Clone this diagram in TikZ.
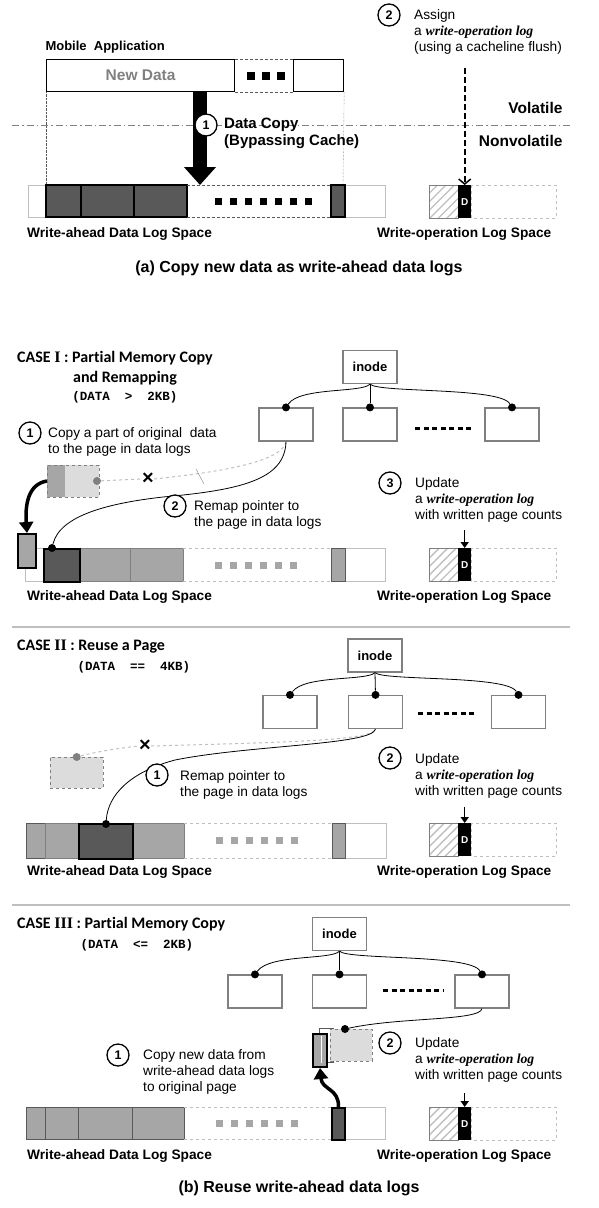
\documentclass[tikz,border=0pt]{standalone}
\usepackage{fontspec}
\setmainfont{Liberation Sans}
\newfontfamily\casefont[Ligatures=NoCommon]{Carlito}
\newfontfamily\serifnum{Liberation Serif}
\newfontfamily\codefont{Liberation Mono}
\usetikzlibrary{arrows.meta, patterns.meta, positioning}

\definecolor{darkfill}{HTML}{595959}
\definecolor{midfill}{HTML}{A6A6A6}
\definecolor{lightfill}{HTML}{DCDCDC}
\definecolor{rimgray}{HTML}{808080}
\definecolor{palegray}{HTML}{BFBFBF}

\newcommand\wolog{{\serifnum\bfseries\itshape write-operation log}}
\newcommand\notefont{\fontsize{13.7}{16}\selectfont}
\newcommand\labelfont{\bfseries\fontsize{13.7}{16}\selectfont}
\newcommand\headfont{\casefont\bfseries\fontsize{16}{19}\selectfont}

\tikzset{
  pagebox/.style={draw=rimgray, line width=1.2pt, fill=white, minimum width=54pt, minimum height=33pt, inner sep=0pt},
  inodebox/.style={pagebox, font=\bfseries\fontsize{13}{15}\selectfont},
  ptrdot/.style={circle, fill=black, inner sep=0pt, minimum size=8pt},
  olddot/.style={circle, fill=rimgray, inner sep=0pt, minimum size=8pt},
  stepnum/.style={circle, draw, line width=1.3pt, fill=white, inner sep=0pt, minimum size=22pt, font=\bfseries\fontsize{12.5}{14}\selectfont},
  note/.style={anchor=west, align=left, inner sep=0pt, font=\notefont},
  block/.style={draw, anchor=north west, inner sep=0pt, minimum height=33pt},
  hot/.style={block, line width=2pt, fill=darkfill},
  oldpage/.style={draw=rimgray, dashed, fill=lightfill, anchor=north west, inner sep=0pt, minimum height=32pt},
  gapline/.style={palegray, dashed, line width=0.8pt},
  pointer/.style={line width=0.8pt},
  deadptr/.style={palegray, dashed, line width=1pt},
  cross/.style={inner sep=0pt, font=\bfseries\fontsize{20}{20}\selectfont},
  copyarrow/.style={line width=3.5pt, -{Triangle[length=11pt, width=14pt]}},
  treedots/.style={line width=3pt, dash pattern=on 5pt off 3.5pt},
}

\begin{document}
\begin{tikzpicture}[x=1pt, y=-1pt]
  \useasboundingbox (0,0) rectangle (598,1208);

  % (a) copy new data as write-ahead data logs
  \node[anchor=west, font=\bfseries\fontsize{13}{15}\selectfont] (mobapp) at (42,47) {Mobile\ \ Application};
  \node[draw, line width=1.2pt, anchor=north west, minimum width=188pt, minimum height=32pt, inner sep=0pt,
        text=rimgray, font=\bfseries\fontsize{15.5}{18}\selectfont] (newdata) at (46,59) {New Data};
  \node[draw, line width=1.2pt, anchor=north west, minimum width=50pt, minimum height=32pt, inner sep=0pt] (moredata) at (293,59) {};
  \draw[densely dashed, darkfill] (newdata.north east) -- (moredata.north west) (newdata.south east) -- (moredata.south west);
  \foreach \i in {0,1,2} \fill (247+\i*15,72) rectangle ++(8,8);

  \draw[densely dotted, darkfill] (newdata.south west) -- (46,185);
  \draw[densely dotted, darkfill] (moredata.south east) -- (343,185);
  \draw[rimgray, line width=0.8pt, dash pattern=on 7pt off 3pt on 1.5pt off 3pt] (12,125) -- (570,125);

  \node[anchor=east, font=\bfseries\fontsize{15.5}{18}\selectfont] (volatile) at (566,108) {Volatile};
  \node[anchor=east, font=\bfseries\fontsize{15.5}{18}\selectfont] (nonvolatile) at (566,141) {Nonvolatile};

  % write-ahead data log space (a)
  \draw[palegray, line width=1pt] (28,185) rectangle (46,217);
  \foreach \a/\b in {46/81, 81/134, 134/187}
    \draw[fill=darkfill, line width=2pt] (\a,185) rectangle (\b,217);
  \draw[densely dashed, darkfill] (187,185) -- (331,185) (187,217) -- (331,217);
  \foreach \i in {0,...,6} \fill (215+\i*15,198) rectangle ++(7,7);
  \draw[palegray, line width=1pt] (345,185) rectangle (385,217);
  \draw[fill=darkfill, line width=2pt] (331,185) rectangle (345,217);

  \coordinate (copytip) at (200,185);
  \draw[line width=14pt, -{Triangle[length=18pt, width=31pt]}] (newdata.south -| copytip) -- (copytip);
  \node[stepnum] (copyone) at (206,125) {1};
  \node[anchor=west, align=left, inner sep=0pt, font=\bfseries\fontsize{15}{17}\selectfont] (copytext) at (224,133.5) {Data Copy\\(Bypassing Cache)};

  % write-operation log space, all four parts
  \foreach \y in {185, 548, 823, 1107} {
    \draw[gapline] (471,\y) rectangle (556,\y+33);
    \fill[pattern={Lines[angle=45, distance=6pt, line width=1.3pt]}, pattern color=palegray] (429,\y) rectangle (458,\y+33);
    \draw[rimgray] (429,\y) rectangle (458,\y+33);
    \node[fill=black, anchor=north west, inner sep=0pt, minimum width=13pt, minimum height=33pt,
          text=white, font=\bfseries\fontsize{10}{12}\selectfont] (dlog-\y) at (458,\y) {D};
    \node[anchor=west, inner sep=0pt, font=\labelfont] at (377,\y+49) {Write-operation Log Space};
    \node[anchor=west, inner sep=0pt, font=\labelfont] at (27,\y+49) {Write-ahead Data Log Space};
  }

  \node[stepnum] (assignnum) at (389,15) {2};
  \node[note] (assigntext) at (414,32) {Assign\\a \wolog\\(using a cacheline flush)};
  \coordinate (assignstart) at (dlog-185.north |- 0,68);
  \draw[line width=2.2pt, dash pattern=on 6pt off 3pt, -{Straight Barb[length=5pt, width=12pt, line width=1.5pt]}] (assignstart) -- (dlog-185.north);

  \node[font=\bfseries\fontsize{16}{19}\selectfont] (capa) at (299,268) {(a) Copy new data as write-ahead data logs};

  %%% CASE I
  \node[anchor=west, inner sep=0pt, font=\headfont] (caseone) at (17,358) {CASE {\serifnum I} : Partial Memory Copy};
  \node[inner sep=0pt, font=\headfont] at (125,378) {and Remapping};
  \node[inner sep=0pt, font=\codefont\bfseries\fontsize{12.5}{15}\selectfont] at (125,397) {(DATA\ \ >\ \ 2KB)};

  \node[inodebox] (inodeI) at (370,367) {inode};
  \node[pagebox] (pageIa) at (286,424.5) {};
  \node[pagebox] (pageIb) at (370,424.5) {};
  \node[pagebox] (pageIc) at (512,424.5) {};
  \node[ptrdot] (dotIa) at (pageIa.north) {};
  \node[ptrdot] (dotIb) at (pageIb.north) {};
  \node[ptrdot] (dotIc) at (pageIc.north) {};
  \draw[pointer] (inodeI.south) .. controls (362,393) and (300,387) .. (dotIa);
  \draw[pointer] (inodeI.south) -- (dotIb);
  \draw[pointer] (inodeI.south) .. controls (378,393) and (500,387) .. (dotIc);
  \draw[treedots] (415,428) -- (474,428);

  \fill[lightfill] (47,465) rectangle (99,497);
  \fill[midfill] (47,465) rectangle (65,497);
  \node[oldpage, minimum width=52pt, fill=none] (oldI) at (47,465) {};
  \node[olddot] (olddotI) at (97,481) {};
  \node[cross] (crossI) at (148,479) {×};
  \draw[deadptr] (olddotI) -- (crossI.west);
  \draw[deadptr] (crossI.east) .. controls (220,472) and (282,462) .. (pageIa.south);
  \draw[rimgray] (196,469) -- (204,484);

  \draw[palegray, line width=1pt] (25,548) rectangle (43,581);
  \draw[rimgray, fill=midfill] (79,548) rectangle (130,581) (130,548) rectangle (183,581);
  \node[hot, minimum width=36pt] (newpgI) at (43,548) {};
  \draw[gapline] (183,548) -- (331,548) (183,581) -- (331,581);
  \foreach \i in {0,...,5} \fill[midfill] (215+\i*15,562) rectangle ++(7,7);
  \draw[palegray, line width=1pt] (345,548) rectangle (385,581);
  \draw[darkfill, fill=midfill, line width=1pt] (331,548) rectangle (345,581);
  \node[block, line width=2pt, fill=midfill, minimum width=18pt, minimum height=34pt] (copyI) at (17,533) {};
  \node[ptrdot] (newdotI) at (52,548) {};

  \draw[copyarrow] (oldI.west |- olddotI) .. controls (28,484) and (25,505) .. (copyI.north);
  \draw[pointer] (newdotI) .. controls (60,515) and (110,503) .. (163,497) .. controls (240,490) and (285,480) .. (pageIa.south);

  \node[stepnum] (oneI) at (30,433) {1};
  \node[note] at (48,441.5) {Copy a part of original\ \ data\\to the page in data logs};
  \node[stepnum] (twoI) at (175,506) {2};
  \node[note] at (194,514.5) {Remap pointer to\\the page in data logs};
  \node[stepnum] (threeI) at (390,483) {3};
  \node[note] at (415,499.5) {Update\\a \wolog\\with written page counts};
  \coordinate (updI) at (dlog-548.north |- 0,530);
  \draw[line width=1.5pt, -{Triangle[length=6pt, width=8pt]}] (updI) -- (dlog-548.north);

  \draw[palegray, line width=1.5pt] (12,627) -- (570,627);

  %%% CASE II
  \node[anchor=west, inner sep=0pt, font=\headfont] (casetwo) at (17,647) {CASE {\serifnum II} : Reuse a Page};
  \node[inner sep=0pt, font=\codefont\bfseries\fontsize{12.5}{15}\selectfont] at (134,667) {(DATA\ \ ==\ \ 4KB)};

  \node[inodebox] (inodeII) at (375,655.5) {inode};
  \node[pagebox] (pageIIa) at (290,712) {};
  \node[pagebox] (pageIIb) at (375.5,712) {};
  \node[pagebox] (pageIIc) at (518.5,712) {};
  \node[ptrdot] (dotIIa) at (pageIIa.north) {};
  \node[ptrdot] (dotIIb) at (pageIIb.north) {};
  \node[ptrdot] (dotIIc) at (pageIIc.north) {};
  \draw[pointer] (inodeII.south) .. controls (367,681) and (305,675) .. (dotIIa);
  \draw[pointer] (inodeII.south) -- (dotIIb);
  \draw[pointer] (inodeII.south) .. controls (383,681) and (506,675) .. (dotIIc);
  \draw[treedots] (418,713) -- (477,713);

  \node[oldpage, minimum width=53pt, minimum height=31pt] (oldII) at (50,757) {};
  \node[olddot] (olddotII) at (oldII.north) {};
  \node[cross] (crossII) at (145,746) {×};
  \draw[deadptr] (olddotII) .. controls (95,752) and (120,748) .. (crossII.west);
  \draw[deadptr] (crossII.east) .. controls (300,742) and (372,740) .. (pageIIb.south);

  \draw[darkfill, fill=midfill] (26,823) rectangle (45,858);
  \draw[rimgray, fill=midfill] (45,823) rectangle (78,858) (132,823) rectangle (184,858);
  \node[hot, minimum width=54pt, minimum height=35pt] (newpgII) at (78,823) {};
  \draw[gapline] (184,823) -- (332,823) (184,858) -- (332,858);
  \foreach \i in {0,...,5} \fill[midfill] (216+\i*15,837) rectangle ++(7,7);
  \draw[palegray, line width=1pt] (345,823) rectangle (386,858);
  \draw[darkfill, fill=midfill, line width=1pt] (332,823) rectangle (345,858);
  \node[ptrdot] (newdotII) at (106,824) {};

  \draw[pointer] (newdotII) .. controls (108,795) and (130,772) .. (175,760) .. controls (250,745) and (372,745) .. (pageIIb.south);
  \node[stepnum] (oneII) at (157,775) {1};
  \node[note] at (180,785) {Remap pointer to\\the page in data logs};
  \node[stepnum] (twoII) at (390,758) {2};
  \node[note] at (415,775.5) {Update\\a \wolog\\with written page counts};
  \coordinate (updII) at (dlog-823.north |- 0,807);
  \draw[line width=1.5pt, -{Triangle[length=6pt, width=8pt]}] (updII) -- (dlog-823.north);

  \draw[palegray, line width=1.5pt] (12,905) -- (570,905);

  %%% CASE III
  \node[anchor=west, inner sep=0pt, font=\headfont] (casethree) at (17,924) {CASE {\serifnum III} : Partial Memory Copy};
  \node[inner sep=0pt, font=\codefont\bfseries\fontsize{12.5}{15}\selectfont] at (137,945) {(DATA\ \ <=\ \ 2KB)};

  \node[inodebox] (inodeIII) at (339.5,934) {inode};
  \node[pagebox] (pageIIIa) at (255,991.5) {};
  \node[pagebox] (pageIIIb) at (339.5,991.5) {};
  \node[pagebox] (pageIIIc) at (482,991.5) {};
  \node[ptrdot] (dotIIIa) at (pageIIIa.north) {};
  \node[ptrdot] (dotIIIb) at (pageIIIb.north) {};
  \node[ptrdot] (dotIIIc) at (pageIIIc.north) {};
  \draw[pointer] (inodeIII.south) .. controls (332,960) and (270,954) .. (dotIIIa);
  \draw[pointer] (inodeIII.south) -- (dotIIIb);
  \draw[pointer] (inodeIII.south) .. controls (347,960) and (470,954) .. (dotIIIc);
  \draw[treedots] (383,990) -- (443,990);

  \draw[darkfill, line width=0.8pt, fill=white] (319,1028) rectangle (333,1062);
  \node[oldpage, minimum width=42pt] (origIII) at (330,1029) {};
  \node[block, line width=2pt, fill=midfill, minimum width=14pt] (copyIII) at (312,1033) {};
  \draw[white, line width=1pt] (321,1036) -- (321,1063);
  \node[ptrdot] (origdotIII) at (345,1029) {};
  \draw[pointer] (pageIIIc.south) .. controls (480,1021) and (400,1017) .. (origdotIII);

  \draw[darkfill, fill=midfill] (26,1107) rectangle (45,1139);
  \draw[darkfill, fill=midfill] (45,1107) rectangle (78,1139) (78,1107) rectangle (132,1139) (132,1107) rectangle (184,1139);
  \draw[gapline] (184,1107) -- (331,1107) (184,1139) -- (331,1139);
  \foreach \i in {0,...,5} \fill[midfill] (216+\i*15,1120) rectangle ++(7,7);
  \draw[palegray, line width=1pt] (344,1107) rectangle (385,1139);
  \node[hot, minimum width=13pt, minimum height=32pt] (srcIII) at (331,1107) {};

  \draw[copyarrow] (srcIII.north) .. controls (339,1088) and (322,1090) .. (copyIII.south);

  \node[stepnum] (oneIII) at (118,1055) {1};
  \node[note] at (143,1071.5) {Copy new data from\\write-ahead data logs\\to original page};
  \node[stepnum] (twoIII) at (390,1043) {2};
  \node[note] at (415,1060) {Update\\a \wolog\\with written page counts};
  \coordinate (updIII) at (dlog-1107.north |- 0,1093);
  \draw[line width=1.5pt, -{Triangle[length=6pt, width=8pt]}] (updIII) -- (dlog-1107.north);

  \node[font=\bfseries\fontsize{16}{19}\selectfont] (capb) at (299,1188) {(b) Reuse write-ahead data logs};
\end{tikzpicture}
\end{document}
